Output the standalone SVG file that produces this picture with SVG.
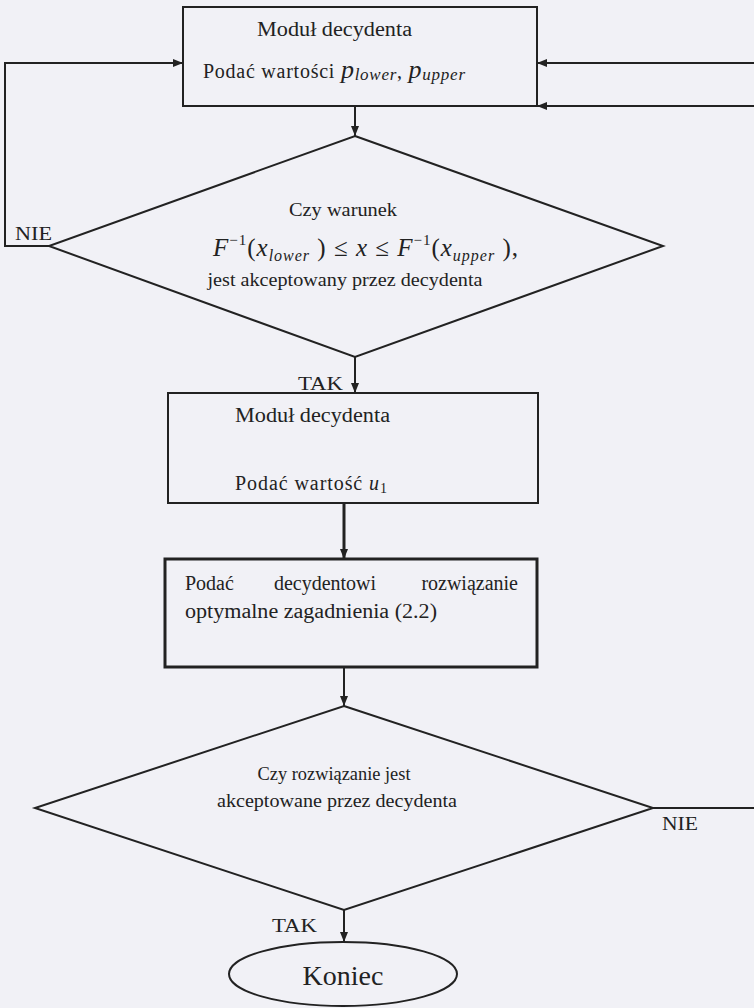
<svg xmlns="http://www.w3.org/2000/svg" width="754" height="1008" viewBox="0 0 754 1008">
<style>
.t{font-family:"Liberation Serif","Times New Roman","DejaVu Serif",serif;fill:#222}
.m{font-family:"Liberation Serif","Times New Roman","DejaVu Serif",serif;font-style:italic;fill:#222}
.s{fill:none;stroke:#222;stroke-width:2}
.b{fill:none;stroke:#222;stroke-width:3}
.c{fill:none;stroke:#222;stroke-width:2}
</style>
<defs>
<marker id="ah" viewBox="0 0 10 10" refX="10" refY="5" markerWidth="10" markerHeight="10" markerUnits="userSpaceOnUse" orient="auto">
<path d="M0,1 L10,5 L0,9 Z" fill="#222"/>
</marker>
</defs>
<rect x="0" y="0" width="754" height="1008" fill="#f1f1f6"/>

<g id="connectors">
<path class="c" d="M355,107 L355,136" marker-end="url(#ah)"/>
<path class="c" d="M49,246 L5,246 L5,63 L183,63" marker-end="url(#ah)"/>
<path class="c" d="M754,63 L537,63" marker-end="url(#ah)"/>
<path class="c" d="M754,106 L537,106" marker-end="url(#ah)"/>
<path class="c" d="M355,357 L355,393" marker-end="url(#ah)"/>
<path class="b" d="M344,503 L344,559" marker-end="url(#ah)"/>
<path class="c" d="M344,667 L344,706" marker-end="url(#ah)"/>
<path class="c" d="M653,808 L754,808"/>
<path class="c" d="M344,910 L344,942" marker-end="url(#ah)"/>
<text class="t" x="15" y="240" font-size="19" textLength="37" lengthAdjust="spacingAndGlyphs">NIE</text>
<text class="t" x="298" y="390" font-size="19" textLength="45" lengthAdjust="spacingAndGlyphs">TAK</text>
<text class="t" x="662" y="830" font-size="19" textLength="36" lengthAdjust="spacingAndGlyphs">NIE</text>
<text class="t" x="272" y="932" font-size="19" textLength="45" lengthAdjust="spacingAndGlyphs">TAK</text>
</g>

<g id="node-modul1">
<rect class="s" x="183" y="7" width="354" height="99"/>
<text class="t" x="257" y="36" font-size="20" textLength="155" lengthAdjust="spacingAndGlyphs">Moduł decydenta</text>
<text class="t" x="203" y="78" font-size="20" textLength="262" lengthAdjust="spacing">Podać wartości <tspan class="m" font-size="26">p</tspan><tspan class="m" font-size="17" dy="2">lower</tspan><tspan font-size="20" dy="-2">, </tspan><tspan class="m" font-size="26">p</tspan><tspan class="m" font-size="17" dy="2">upper</tspan></text>
</g>

<g id="node-warunek">
<polygon class="s" points="355,136 663,246 355,357 49,246"/>
<text class="t" x="343" y="216" text-anchor="middle" font-size="19" textLength="108" lengthAdjust="spacingAndGlyphs">Czy warunek</text>
<text class="t" x="213" y="256" font-size="25" textLength="305" lengthAdjust="spacing"><tspan class="m">F</tspan><tspan font-size="15" dy="-11">−1</tspan><tspan dy="11">(</tspan><tspan class="m">x</tspan><tspan class="m" font-size="16" dy="5">lower</tspan><tspan dy="-5"> ) ≤ </tspan><tspan class="m">x</tspan><tspan> ≤ </tspan><tspan class="m">F</tspan><tspan font-size="15" dy="-11">−1</tspan><tspan dy="11">(</tspan><tspan class="m">x</tspan><tspan class="m" font-size="16" dy="5">upper</tspan><tspan dy="-5"> ),</tspan></text>
<text class="t" x="345" y="286" text-anchor="middle" font-size="19" textLength="275" lengthAdjust="spacingAndGlyphs">jest akceptowany przez decydenta</text>
</g>

<g id="node-modul2">
<rect class="s" x="168" y="393" width="370" height="110"/>
<text class="t" x="235" y="422" font-size="20" textLength="155" lengthAdjust="spacingAndGlyphs">Moduł decydenta</text>
<text class="t" x="235" y="490" font-size="20" textLength="152" lengthAdjust="spacing">Podać wartość <tspan class="m">u</tspan><tspan font-size="14" dy="3">1</tspan></text>
</g>

<g id="node-rozwiazanie">
<rect class="b" x="165" y="559" width="372" height="108"/>
<text class="t" font-size="20" y="590"><tspan x="185">Podać</tspan><tspan x="325" text-anchor="middle">decydentowi</tspan><tspan x="518" text-anchor="end">rozwiązanie</tspan></text>
<text class="t" x="185" y="618" font-size="20" textLength="252" lengthAdjust="spacingAndGlyphs">optymalne zagadnienia (2.2)</text>
</g>

<g id="node-akceptowane">
<polygon class="s" points="344,706 653,808 344,910 35,808"/>
<text class="t" x="334" y="780" text-anchor="middle" font-size="19" textLength="153" lengthAdjust="spacingAndGlyphs">Czy rozwiązanie jest</text>
<text class="t" x="337" y="807" text-anchor="middle" font-size="19" textLength="240" lengthAdjust="spacingAndGlyphs">akceptowane przez decydenta</text>
</g>

<g id="node-koniec">
<ellipse class="s" cx="343" cy="974" rx="114" ry="32"/>
<text class="t" x="343" y="985" text-anchor="middle" font-size="28">Koniec</text>
</g>
</svg>
